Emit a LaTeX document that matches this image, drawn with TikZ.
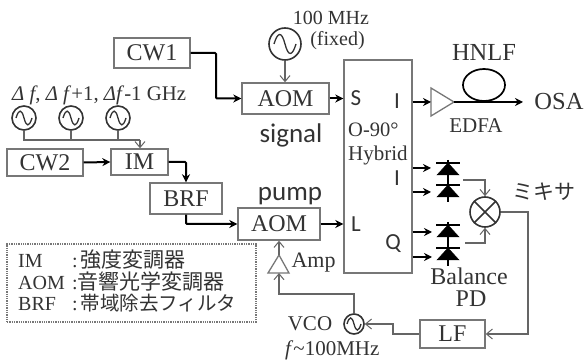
\documentclass[tikz,border=0pt]{standalone}
\usepackage{fontspec}
\setmainfont{Liberation Serif}
\newfontfamily\jpfont{Noto Sans CJK JP}
\newfontfamily\sanslabel{Carlito}
\usetikzlibrary{arrows.meta,shapes.geometric,calc}
\definecolor{ink}{HTML}{333333}
\definecolor{edge}{HTML}{777777}
\newcommand{\fs}[1]{\fontsize{#1}{#1}\selectfont}
\tikzset{
  x=1pt,y=-1pt,
  boxnode/.style={draw=edge,line width=1.4pt,inner sep=0pt,text=ink,font=\fs{24}},
  lbl/.style={inner sep=0pt,text=ink,font=\fs{20}},
  slbl/.style={inner sep=0pt,text=ink,font=\sanslabel\fs{27}},
  plbl/.style={inner sep=0pt,text=ink,font=\sanslabel\fs{23}},
  main/.style={line width=2pt,black,-{Stealth[length=8pt,width=8pt]}},
  thin/.style={line width=1.2pt,edge!85!black,-{Straight Barb[length=6pt,width=10pt,line width=1pt]}},
  plain/.style={line width=1.2pt,edge!85!black},
  osc/.style={circle,draw=ink,line width=1.6pt,inner sep=0pt},
  amp/.style={draw=edge,line width=1.3pt},
  dio/.style={fill=black,draw=black,line width=.5pt},
}
\newcommand{\sinewave}[2]{% node name, half-width
  \draw[ink,line width=1.3pt] ($(#1.center)+(-#2,0)$)
     .. controls ($(#1.center)+(-0.65*#2,-1.15*#2)$) and ($(#1.center)+(-0.3*#2,-1.15*#2)$) .. (#1.center)
     .. controls ($(#1.center)+(0.3*#2,1.15*#2)$) and ($(#1.center)+(0.65*#2,1.15*#2)$) .. ($(#1.center)+(#2,0)$);}
\newcommand{\diode}[3]{% x, bar y, base y
  \fill[dio] (#1-11,#3) -- (#1+11,#3) -- (#1,#2) -- cycle;
  \draw[black,line width=1.6pt] (#1-12,#2) -- (#1+12,#2);}
\begin{document}
\begin{tikzpicture}
\useasboundingbox (0,0) rectangle (584,363);
% boxes
\node[boxnode,minimum width=76pt,minimum height=30pt] (cw1) at (152,53) {CW1};
\node[boxnode,minimum width=87pt,minimum height=31pt] (aoms) at (285.5,98.5) {AOM};
\node[boxnode,minimum width=76pt,minimum height=27pt] (cw2) at (45,162.5) {CW2};
\node[boxnode,minimum width=57pt,minimum height=26pt] (im) at (139.5,162) {IM};
\node[boxnode,minimum width=72pt,minimum height=31pt] (brf) at (186,198.5) {BRF};
\node[boxnode,minimum width=82pt,minimum height=32pt] (aomp) at (279,224) {AOM};
\node[boxnode,minimum width=68pt,minimum height=213pt] (hyb) at (378,166.5) {};
\node[boxnode,minimum width=65pt,minimum height=28pt] (lf) at (452.5,334) {LF};
% legend
\node[draw=edge,densely dotted,line width=1.3pt,minimum width=249pt,minimum height=78pt,inner sep=0pt] (leg) at (131.5,283) {};
\node[lbl,anchor=west,font=\fs{20}] (l1) at (18,260) {\makebox[54pt][l]{IM}:\hspace{3pt}{\jpfont\fs{21}強度変調器}};
\node[lbl,anchor=west,font=\fs{20}] (l2) at (18,281.5) {\makebox[54pt][l]{AOM}:{\jpfont\fs{21}音響光学変調器}};
\node[lbl,anchor=west,font=\fs{20}] (l3) at (18,303) {\makebox[54pt][l]{BRF}:\hspace{3pt}{\jpfont\fs{19.5}帯域除去フィルタ}};
% oscillators
\node[osc,minimum size=32pt] (o0) at (285,44) {};
\node[osc,minimum size=24pt] (o1) at (24,118) {};
\node[osc,minimum size=24pt] (o2) at (71,118) {};
\node[osc,minimum size=24pt] (o3) at (118,118) {};
\node[osc,minimum size=20pt] (vco) at (354,324) {};
\sinewave{o0}{11}\sinewave{o1}{8}\sinewave{o2}{8}\sinewave{o3}{8}\sinewave{vco}{7}
% mixer
\node[osc,minimum size=30pt] (mix) at (485,212) {};
\draw[ink,line width=1.6pt] (mix.north west) -- (mix.south east) (mix.north east) -- (mix.south west);
% EDFA, HNLF
\coordinate (ea) at (431,88); \coordinate (eb) at (431,116); \coordinate (ec) at (454,102);
\draw[amp] (ea) -- (eb) -- (ec) -- cycle;
\coordinate (ein) at (431,102);
\coordinate (osain) at (523,102);
\node[ellipse,draw=black,line width=1.7pt,minimum width=42pt,minimum height=32pt,inner sep=0pt] (loop) at (484,85) {};
\draw[main] (ec) -- (osain);
% Amp
\coordinate (aa) at (279,255); \coordinate (ab) at (268,273); \coordinate (ac) at (289,273);
\coordinate (abot) at (279,273);
\draw[amp] (aa) -- (ab) -- (ac) -- cycle;
% diodes
\diode{448}{163}{175}
\diode{448}{185}{197}
\draw[black,line width=1.4pt] (448,160) -- (448,202);
\diode{448}{225}{237}
\diode{448}{248}{260}
\draw[black,line width=1.4pt] (448,222) -- (448,266);
\coordinate (d1) at (431,168); \coordinate (d2) at (431,192);
\coordinate (d3) at (432,232); \coordinate (d4) at (432,257);
\coordinate (dtop) at (463,180); \coordinate (dbot) at (465,243);
% connectors
\draw[main,rounded corners=1pt] (cw1.east) -- (216,53) -- (216,98.5) -- (aoms.west);
\draw[main] (aoms.east) -- (hyb.west |- aoms.east);
\draw[main] (hyb.east |- ein) -- (ein);
\draw[main] (cw2.east) -- (im.west);
\draw[main,rounded corners=1pt] (im.east) -- (186,162) -- (brf.north);
\draw[main,rounded corners=1pt] (brf.south) -- (186,224) -- (aomp.west);
\draw[main] (aomp.east) -- (hyb.west |- aomp.east);
\draw[main] (hyb.east |- d1) -- (d1);
\draw[main] (hyb.east |- d2) -- (d2);
\draw[main] (hyb.east |- d3) -- (d3);
\draw[main] (hyb.east |- d4) -- (d4);
\draw[thin] (o0.south) -- (aoms.north -| o0.south);
\draw[plain] (o1.south) |- (140,140);
\draw[plain] (o2.south) -- (o2.south |- 0,140);
\draw[plain] (o3.south) -- (o3.south |- 0,140);
\draw[thin] (140,140) -- (im.north -| 140,0);
\draw[thin] (dtop) -- (mix.north |- dtop) -- (mix.north);
\draw[thin] (dbot) -- (mix.south |- dbot) -- (mix.south);
\draw[thin] (mix.east) -- (528,212) -- (528,334) -- (lf.east);
\draw[thin] (lf.west) -- (393,334) -- (393,324) -- (vco.east);
\draw[thin] (vco.north) -- (354,294) -- (279,294) -- (abot);
\draw[thin] (aa) -- (aa |- aomp.south);
% labels
\node[lbl,font=\fs{20}] (t100) at (331,18) {100 MHz};
\node[lbl,font=\fs{20}] (tfix) at (337.5,41) {(fixed)};
\node[lbl,anchor=west,font=\fs{20.8}] (tdf) at (12,95) {\textit{Δ f}, \textit{Δ f}+1, \textit{Δf}-1 GHz};
\node[slbl] (tsig) at (291,135) {signal};
\node[slbl] (tpump) at (290,196) {pump};
\node[plbl] (ts) at (356,98) {S};
\node[plbl] (ti1) at (397,101) {I};
\node[plbl] (ti2) at (397,178) {I};
\node[plbl] (tl) at (356,224) {L};
\node[plbl] (tq) at (393,244) {Q};
\node[lbl,anchor=west,font=\fs{20.5}] (t90) at (348,130) {O-90\textdegree};
\node[lbl,anchor=west,font=\fs{21}] (thy) at (348,155) {Hybrid};
\node[lbl,font=\fs{24.5}] (thn) at (484,52) {HNLF};
\node[lbl,font=\fs{24.5}] (tosa) at (559,102) {OSA};
\node[lbl,font=\fs{21}] (ted) at (476,126) {EDFA};
\node[lbl,font=\jpfont\fs{21}] (tmx) at (544,192) {ミキサ};
\node[lbl,font=\fs{24}] (tba) at (469,276) {Balance};
\node[lbl,font=\fs{24}] (tpd) at (471,299) {PD};
\node[lbl,font=\fs{22}] (tamp) at (313.5,263) {Amp};
\node[lbl,font=\fs{21}] (tvco) at (310,324) {VCO};
\node[lbl,font=\fs{21},anchor=west] (tf) at (285,350) {\textit{f}\textasciitilde 100MHz};
\end{tikzpicture}
\end{document}
